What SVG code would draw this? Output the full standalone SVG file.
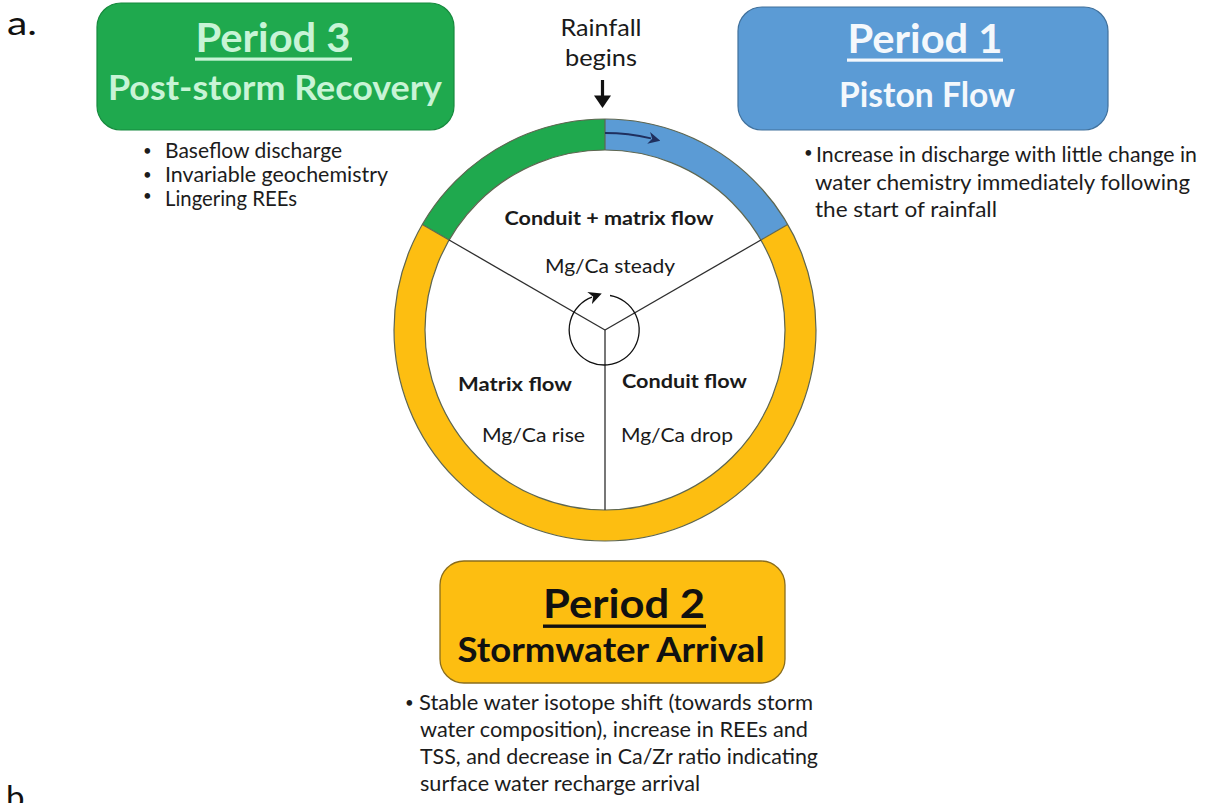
<svg xmlns="http://www.w3.org/2000/svg" width="1207" height="803" viewBox="0 0 1207 803">
<defs>
<style>
.t{font-family:Lato,"Liberation Sans",sans-serif;}
.b{font-weight:700;}
.body{font-size:20.5px;fill:#1c1c1c;}
.dot{font-size:15px;fill:#1c1c1c;}
.lab{font-size:19.5px;fill:#1a1a1a;}
.ttl{font-size:40.5px;font-weight:700;}
.sub{font-size:35px;font-weight:700;}
.seg{fill:none;stroke-width:31;}
.edge{fill:none;stroke:#5e6650;stroke-width:1.2;}
.spoke{stroke:#2e2e2e;stroke-width:1.3;}
</style>
<marker id="navyHead" viewBox="0 0 10 10" refX="2" refY="5" markerWidth="12" markerHeight="12" markerUnits="userSpaceOnUse" orient="auto">
<path d="M0,0 L10,5 L0,10 L3,5 Z" fill="#1f2f5e"/>
</marker>
<marker id="blackHead" viewBox="0 0 10 10" refX="2" refY="5" markerWidth="13" markerHeight="13" markerUnits="userSpaceOnUse" orient="auto">
<path d="M0,0 L10,5 L0,10 L3,5 Z" fill="#111"/>
</marker>
</defs>
<rect width="1207" height="803" fill="#ffffff"/>

<text class="t" x="7" y="35" font-size="33" fill="#111" textLength="30" lengthAdjust="spacingAndGlyphs">a.</text>
<text class="t" x="6" y="809" font-size="33" fill="#111">b.</text>

<g id="cycle">
<path class="seg" stroke="#1fa94e" d="M435.7,232.25 A195.5,195.5 0 0 1 605,134.5"/>
<path class="seg" stroke="#5b9bd5" d="M605,134.5 A195.5,195.5 0 0 1 774.3,232.25"/>
<path class="seg" stroke="#fdbe11" d="M774.3,232.25 A195.5,195.5 0 1 1 435.7,232.25"/>
<circle class="edge" cx="605" cy="330" r="211"/>
<circle class="edge" cx="605" cy="330" r="180"/>
<line class="edge" x1="605" y1="119" x2="605" y2="150"/>
<line class="edge" x1="422.3" y1="224.5" x2="449.1" y2="240"/>
<line class="edge" x1="787.7" y1="224.5" x2="760.9" y2="240"/>
<line class="spoke" x1="605" y1="330" x2="449.1" y2="240"/>
<line class="spoke" x1="605" y1="330" x2="760.9" y2="240"/>
<line class="spoke" x1="605" y1="330" x2="605" y2="510"/>
</g>

<g id="labels">
<text class="t b lab" x="609" y="225" text-anchor="middle" textLength="209" lengthAdjust="spacingAndGlyphs">Conduit + matrix flow</text>
<text class="t lab" x="610" y="273" text-anchor="middle" textLength="130" lengthAdjust="spacingAndGlyphs">Mg/Ca steady</text>
<text class="t b lab" x="458" y="391" textLength="114" lengthAdjust="spacingAndGlyphs">Matrix flow</text>
<text class="t b lab" x="622" y="388" textLength="125" lengthAdjust="spacingAndGlyphs">Conduit flow</text>
<text class="t lab" x="482" y="442" textLength="103" lengthAdjust="spacingAndGlyphs">Mg/Ca rise</text>
<text class="t lab" x="621" y="442" textLength="112" lengthAdjust="spacingAndGlyphs">Mg/Ca drop</text>
</g>

<g id="rainfall">
<text class="t" x="601" y="36" text-anchor="middle" font-size="24" fill="#1a1a1a" textLength="81" lengthAdjust="spacingAndGlyphs">Rainfall</text>
<text class="t" x="601" y="66" text-anchor="middle" font-size="24" fill="#1a1a1a" textLength="72" lengthAdjust="spacingAndGlyphs">begins</text>
</g>

<g id="connectors">
<line x1="602.5" y1="80" x2="602.5" y2="99" stroke="#111" stroke-width="3.2"/>
<polygon points="594,95.5 611,95.5 602.5,108" fill="#111"/>
<path d="M605,133 A197,197 0 0 1 651,138.45" fill="none" stroke="#1f2f5e" stroke-width="1.8" marker-end="url(#navyHead)"/>
<path d="M610,295.5 A35,35 0 1 1 592,297.2" fill="none" stroke="#111" stroke-width="1.3" marker-end="url(#blackHead)"/>
</g>

<g id="period3">
<rect x="97" y="3" width="357" height="127" rx="24" fill="#1fa94e" stroke="#178a3e" stroke-width="1.2"/>
<text class="t ttl" x="273" y="52" text-anchor="middle" fill="#c8f4d6" textLength="155" lengthAdjust="spacingAndGlyphs">Period 3</text>
<rect x="195" y="57.5" width="157" height="3.2" fill="#c8f4d6"/>
<text class="t sub" x="275" y="100" text-anchor="middle" fill="#c8f4d6" textLength="334" lengthAdjust="spacingAndGlyphs">Post-storm Recovery</text>
<text class="t dot" x="143" y="156">•</text>
<text class="t body" x="165" y="158" textLength="177" lengthAdjust="spacingAndGlyphs">Baseflow discharge</text>
<text class="t dot" x="143" y="180">•</text>
<text class="t body" x="165" y="182" textLength="223" lengthAdjust="spacingAndGlyphs">Invariable geochemistry</text>
<text class="t dot" x="143" y="201">•</text>
<text class="t body" x="165" y="206" textLength="132" lengthAdjust="spacingAndGlyphs">Lingering REEs</text>
</g>

<g id="period1">
<rect x="738" y="7" width="370" height="123" rx="24" fill="#5b9bd5" stroke="#41719c" stroke-width="1.2"/>
<text class="t ttl" x="925" y="53" text-anchor="middle" fill="#f4f8fc" textLength="155" lengthAdjust="spacingAndGlyphs">Period 1</text>
<rect x="847" y="58.5" width="156" height="3.2" fill="#f4f8fc"/>
<text class="t sub" x="927" y="107" text-anchor="middle" fill="#f4f8fc" textLength="176" lengthAdjust="spacingAndGlyphs">Piston Flow</text>
<text class="t dot" x="804" y="158" font-size="13">•</text>
<text class="t body" x="816" y="162" textLength="381" lengthAdjust="spacingAndGlyphs">Increase in discharge with little change in</text>
<text class="t body" x="815" y="190" textLength="375" lengthAdjust="spacingAndGlyphs">water chemistry immediately following</text>
<text class="t body" x="815" y="217" textLength="182" lengthAdjust="spacingAndGlyphs">the start of rainfall</text>
</g>

<g id="period2">
<rect x="440" y="561" width="345" height="122" rx="24" fill="#fdbe11" stroke="#8a6d1c" stroke-width="1.3"/>
<text class="t ttl" x="624" y="618" text-anchor="middle" fill="#111" textLength="162" lengthAdjust="spacingAndGlyphs">Period 2</text>
<rect x="543" y="624.5" width="163" height="3.4" fill="#111"/>
<text class="t sub" x="611" y="662" text-anchor="middle" fill="#111" textLength="307" lengthAdjust="spacingAndGlyphs">Stormwater Arrival</text>
<text class="t dot" x="405" y="708">•</text>
<text class="t body" x="419" y="710" textLength="394" lengthAdjust="spacingAndGlyphs">Stable water isotope shift (towards storm</text>
<text class="t body" x="420" y="737" textLength="388" lengthAdjust="spacingAndGlyphs">water composition), increase in REEs and</text>
<text class="t body" x="420" y="764" textLength="398" lengthAdjust="spacingAndGlyphs">TSS, and decrease in Ca/Zr ratio indicating</text>
<text class="t body" x="420" y="791" textLength="280" lengthAdjust="spacingAndGlyphs">surface water recharge arrival</text>
</g>
</svg>
